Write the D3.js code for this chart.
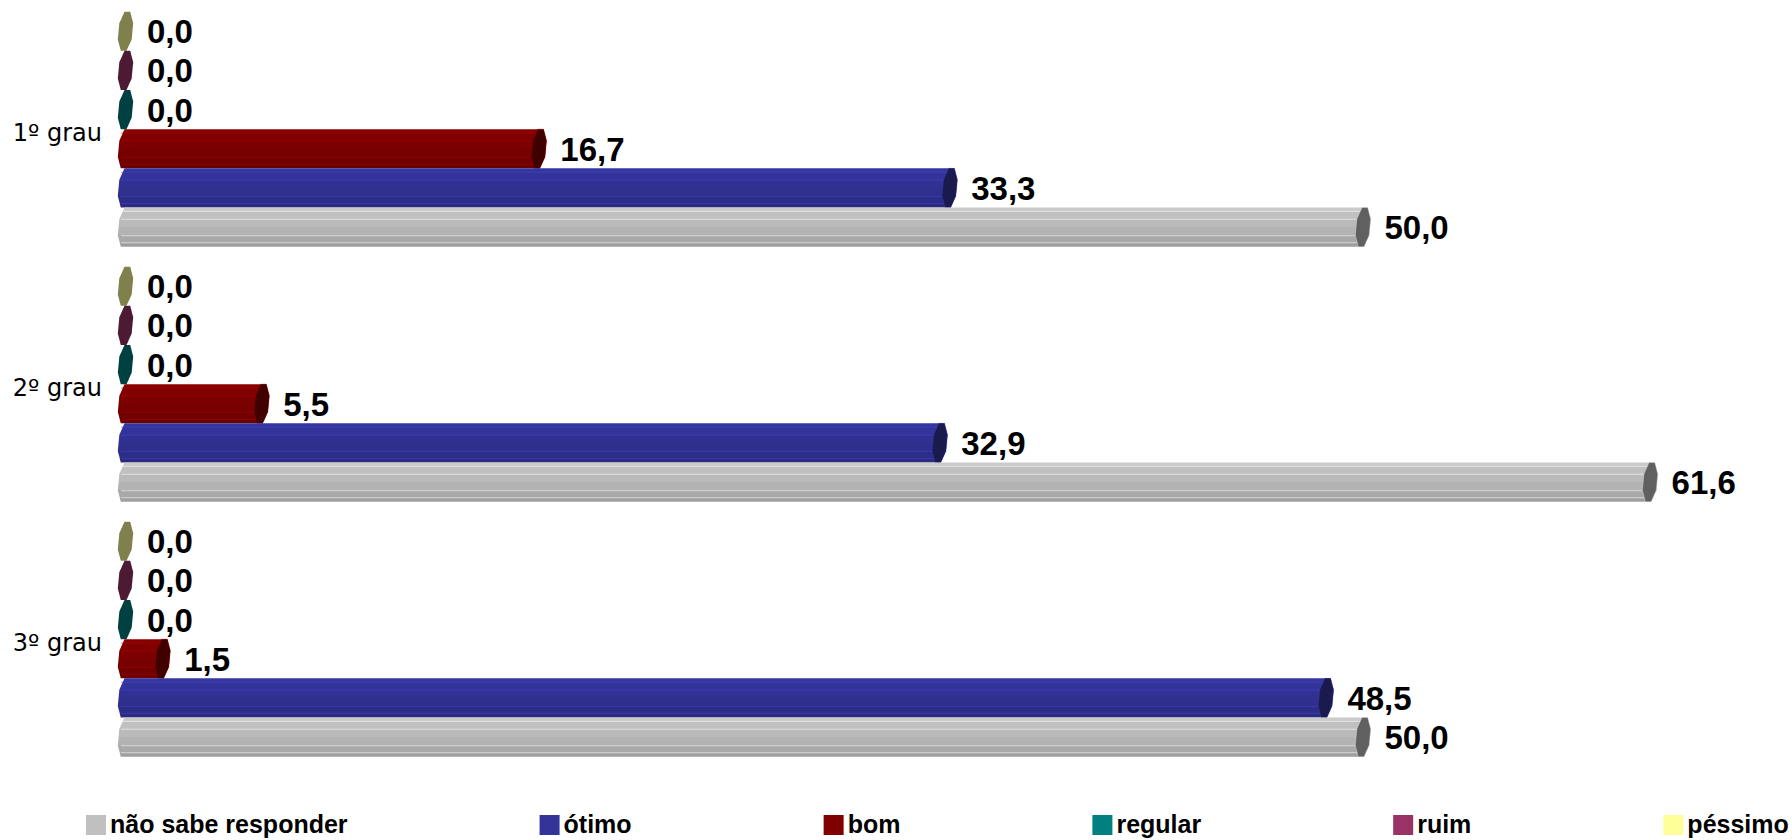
<!DOCTYPE html>
<html>
<head>
<meta charset="utf-8">
<script src="https://cdn.jsdelivr.net/npm/d3@7/dist/d3.min.js"></script>
<style>
  html, body { margin: 0; padding: 0; background: #ffffff; }
  svg { display: block; }
</style>
</head>
<body>
<svg id="chart" width="1792" height="840"></svg>
<script>
// ---------------- data ----------------
const categories = ["1º grau", "2º grau", "3º grau"];
// series, in order from top to bottom inside each group
const seriesNames = ["péssimo", "ruim", "regular", "bom", "ótimo", "não sabe responder"];
const seriesColors = ["#FFFF99", "#993366", "#008080", "#800000", "#333399", "#C0C0C0"];
const pessimo = [0.0, 0.0, 0.0];
const ruim = [0.0, 0.0, 0.0];
const regular = [0.0, 0.0, 0.0];
const bom = [16.7, 5.5, 1.5];
const otimo = [33.3, 32.9, 48.5];
const naoSabe = [50.0, 61.6, 50.0];
const seriesValues = [pessimo, ruim, regular, bom, otimo, naoSabe];
// legend order
const legendOrder = ["não sabe responder", "ótimo", "bom", "regular", "ruim", "péssimo"];

// ---------------- layout ----------------
const W = 1792, H = 840;
const svg = d3.select("#chart");
const defs = svg.append("defs");

const x = d3.scaleLinear().domain([0, 60]).range([118, 118 + 60 * 24.75]);
const y0 = d3.scaleBand().domain(categories).range([1.7, 766.7])
  .paddingInner(0.0784).paddingOuter(0.0392);
const y1 = d3.scaleBand().domain(seriesNames).range([0, y0.bandwidth()]);

const capW = 15, rx = capW / 2, skew = 2;
const fmt = v => d3.format(".1f")(v).replace(".", ",");

function half(c) {
  const r = d3.rgb(c);
  return d3.rgb(r.r * 0.5, r.g * 0.5, r.b * 0.5).formatHex();
}
function shade(c, f) {
  const r = d3.rgb(c);
  return d3.rgb(Math.min(255, r.r * f), Math.min(255, r.g * f), Math.min(255, r.b * f)).formatHex();
}

// gradients for cylinder bodies (faceted bands)
const bands = [[0, 0.1, 1.05], [0.1, 0.3, 1.0], [0.3, 0.5, 0.97], [0.5, 0.7, 0.93], [0.7, 0.9, 0.88], [0.9, 1.0, 0.83]];
seriesNames.forEach((s, i) => {
  const g = defs.append("linearGradient").attr("id", "grad" + i)
    .attr("x1", 0).attr("y1", 0).attr("x2", 0).attr("y2", 1);
  bands.forEach(b => {
    g.append("stop").attr("offset", b[0]).attr("stop-color", shade(seriesColors[i], b[2]));
    g.append("stop").attr("offset", b[1]).attr("stop-color", shade(seriesColors[i], b[2]));
  });
});

const angles = d3.range(8).map(k => (22.5 + 45 * k) * Math.PI / 180);
function octPoint(cx, cy, ry, a) {
  return [cx + rx * Math.cos(a) - skew * Math.sin(a), cy + ry * Math.sin(a)];
}

const plot = svg.append("g");

categories.forEach((cat, ci) => {
  const gy = y0(cat);
  seriesNames.forEach((s, si) => {
    const v = seriesValues[si][ci];
    const top = gy + y1(s);
    const h = y1.bandwidth();
    const cy = top + h / 2;
    const ry = (h / 2) / Math.cos(22.5 * Math.PI / 180);
    const lx = x(0) + rx;
    const capCx = x(v) + rx;
    const g = plot.append("g");

    if (v > 0) {
      const leftA = [112.5, 157.5, 202.5, 247.5].map(d => d * Math.PI / 180);
      const rightA = [292.5, 337.5, 22.5, 67.5].map(d => d * Math.PI / 180);
      const pts = leftA.map(a => octPoint(lx, cy, ry, a)).concat(rightA.map(a => octPoint(capCx, cy, ry, a)));
      g.append("path")
        .attr("d", "M" + pts.map(p => p.join(",")).join("L") + "Z")
        .attr("fill", "url(#grad" + si + ")");
      [0.1, 0.3, 0.72, 0.9].forEach(f => {
        g.append("line")
          .attr("x1", lx - rx * 0.6).attr("x2", capCx)
          .attr("y1", top + h * f).attr("y2", top + h * f)
          .attr("stroke", shade(seriesColors[si], 1.35))
          .attr("stroke-opacity", 0.55)
          .attr("stroke-width", 1);
      });
    }
    const cap = angles.map(a => octPoint(capCx, cy, ry, a));
    g.append("path")
      .attr("d", "M" + cap.map(p => p.join(",")).join("L") + "Z")
      .attr("fill", half(seriesColors[si]))
      .attr("stroke", v > 0 ? shade(seriesColors[si], 1.2) : "none")
      .attr("stroke-opacity", 0.5)
      .attr("stroke-width", 0.8);

    svg.append("text")
      .attr("x", x(v) + capW + 14)
      .attr("y", cy + 12)
      .attr("font-family", "'Liberation Sans', Arial, sans-serif")
      .attr("font-weight", "bold")
      .attr("font-size", 33)
      .attr("fill", "#000")
      .text(fmt(v));
  });

  svg.append("text")
    .attr("x", 102)
    .attr("y", gy + y0.bandwidth() / 2 + 12)
    .attr("text-anchor", "end")
    .attr("font-family", "'DejaVu Sans', Verdana, sans-serif")
    .attr("font-size", 24)
    .attr("fill", "#000")
    .text(cat);
});

// ---------------- legend ----------------
const legend = svg.append("g");
let lx = 86;
legendOrder.forEach(name => {
  const i = seriesNames.indexOf(name);
  legend.append("rect")
    .attr("x", lx).attr("y", 815).attr("width", 20).attr("height", 20)
    .attr("fill", seriesColors[i]);
  const t = legend.append("text")
    .attr("x", lx + 24).attr("y", 833)
    .attr("font-family", "'Liberation Sans', Arial, sans-serif")
    .attr("font-weight", "bold")
    .attr("font-size", 25)
    .attr("fill", "#000")
    .text(name);
  const w = t.node().getComputedTextLength();
  lx = lx + 24 + w + 192;
});
</script>
</body>
</html>
